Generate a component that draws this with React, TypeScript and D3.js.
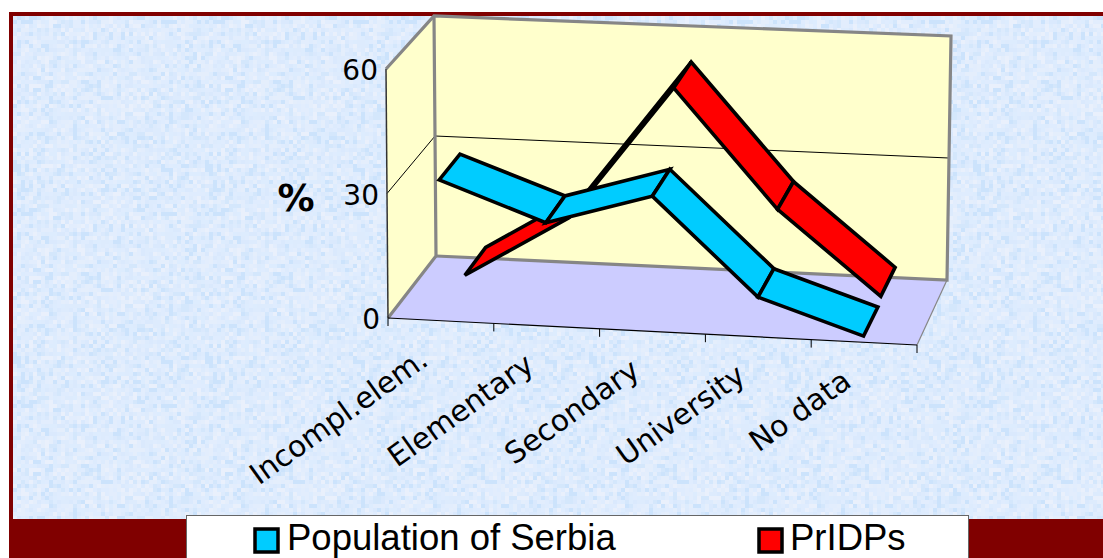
import * as d3 from "d3";

const categories = ["Incompl.elem.", "Elementary", "Secondary", "University", "No data"];
const serbiaValues = [34.2, 25.2, 32.9, 9.9, 1.8];
const pridpValues = [3.2, 18.5, 51.5, 23, 3];
const yTicks = [0, 30, 60];

const maroon = "#800000";
const wallFill = "#FFFFCC";
const floorFill = "#CCCCFF";
const blue = "#00CCFF";
const red = "#FF0000";
const paperTones = ["#CCE3FC", "#D4E7FC", "#DAE9FD", "#DDEBFD", "#DDECFE", "#DFECFE", "#E2EDFD", "#E4EEFC", "#E9F0FC"];

// the 3D box is faked: front and back planes get their own scales, depth goes 0..1 between them
const catFrontX = d3.scaleLinear().domain([0, 5]).range([388, 917]);
const catBackX = d3.scaleLinear().domain([0, 5]).range([436, 947]);
const baseFront = d3.scaleLinear().domain([0, 5]).range([318, 345]);
const baseBack = d3.scaleLinear().domain([0, 5]).range([256, 280]);
const riseFront = d3.scaleLinear().domain([0, 60]).range([0, 249]);
const riseBack = d3.scaleLinear().domain([0, 60]).range([0, 242]);
const lean = d3.scaleLinear().domain([0, 5]).range([-2, 4]);
const backTilt = d3.scaleLinear().domain([0, 5]).range([-2, 2]);

function project(cat: number, value: number, depth: number): [number, number] {
  const x = d3.interpolateNumber(catFrontX(cat), catBackX(cat))(depth);
  const base = d3.interpolateNumber(baseFront(cat), baseBack(cat))(depth);
  const rise = d3.interpolateNumber(riseFront(value), riseBack(value) + (backTilt(cat) * value) / 60)(depth);
  return [x + (lean(cat) * value) / 60, base - rise];
}

const poly = (pts: [number, number][]) => d3.line()(pts) + "Z";

// slide background texture only, a repeating tile of 4px squares
const cell = 4;
const tileCells = 48;
const pick = d3.randomInt.source(d3.randomLcg(0.37))(paperTones.length);
const tile = d3.range(tileCells * tileCells).map((i) => ({
  col: i % tileCells,
  row: Math.floor(i / tileCells),
  tone: paperTones[pick()],
}));

function Ribbon({ values, color, z0, z1 }: { values: number[]; color: string; z0: number; z1: number }) {
  return (
    <g>
      {values.slice(0, -1).map((v, i) => {
        const next = values[i + 1];
        return (
          <path
            key={i}
            d={poly([
              project(i + 0.5, v, z0),
              project(i + 1.5, next, z0),
              project(i + 1.5, next, z1),
              project(i + 0.5, v, z1),
            ])}
            fill={color}
            stroke="#000"
            strokeWidth={3.6}
            strokeLinejoin="miter"
          />
        );
      })}
    </g>
  );
}

function App() {
  const ticks5 = d3.range(0, categories.length + 1);
  return (
    <svg
      width={1103}
      height={558}
      style={{ position: "fixed", left: 0, top: 0, background: "#fff" }}
      fontFamily="'DejaVu Sans'"
    >
      <defs>
        <pattern id="paper" x={13} y={16} width={cell * tileCells} height={cell * tileCells} patternUnits="userSpaceOnUse">
          {tile.map((d, i) => (
            <rect key={i} x={d.col * cell} y={d.row * cell} width={cell} height={cell} fill={d.tone} shapeRendering="crispEdges" />
          ))}
        </pattern>
      </defs>

      {/* slide frame */}
      <rect x={9} y={12} width={1094} height={546} fill={maroon} />
      <rect x={13} y={16} width={1090} height={503} fill="url(#paper)" />

      {/* walls and floor */}
      <path d={poly([project(0, 0, 0), project(0, 60, 0), project(0, 60, 1), project(0, 0, 1)])} fill={wallFill} />
      <path d={poly([project(0, 0, 1), project(0, 60, 1), project(5, 60, 1), project(5, 0, 1)])} fill={wallFill} />
      <path d={poly([project(0, 0, 0), project(0, 0, 1), project(5, 0, 1), project(5, 0, 0)])} fill={floorFill} />

      {/* 30 gridline */}
      {yTicks
        .filter((t) => t > 0 && t < 60)
        .map((t) => (
          <path
            key={t}
            d={d3.line()([project(0, t, 0), project(0, t, 1), project(5, t, 1)]) as string}
            fill="none"
            stroke="#000"
            strokeWidth={1}
          />
        ))}

      {/* grey box edges */}
      <path
        d={d3.line()([project(0, 60, 0), project(0, 60, 1), project(5, 60, 1), project(5, 0, 1), project(0, 0, 1)]) as string}
        fill="none"
        stroke="#868686"
        strokeWidth={3.2}
      />
      <path d={d3.line()([project(0, 60, 1), project(0, 0, 1), project(0, 0, 0)]) as string} fill="none" stroke="#868686" strokeWidth={3.2} />
      <path d={d3.line()([project(5, 0, 1), project(5, 0, 0)]) as string} fill="none" stroke="#868686" strokeWidth={1.2} />
      <path d={d3.line()([project(0, 60, 0), project(0, 0, 0)]) as string} fill="none" stroke="#333" strokeWidth={1.5} />

      {/* category axis */}
      <path d={d3.line()([project(0, 0, 0), project(5, 0, 0)]) as string} fill="none" stroke="#000" strokeWidth={1.2} />
      {ticks5.map((i) => {
        const [x, y] = project(i, 0, 0);
        return <line key={i} x1={x} x2={x} y1={y} y2={y + 8} stroke="#000" strokeWidth={1} />;
      })}

      <Ribbon values={pridpValues} color={red} z0={0.52} z1={0.97} />
      <Ribbon values={serbiaValues} color={blue} z0={-0.02} z1={0.43} />

      {/* value labels */}
      {yTicks.map((t) => {
        const [x, y] = project(0, t, 0);
        return (
          <text key={t} x={x - 8} y={y + 11} textAnchor="end" fontSize={28} fill="#000">
            {t}
          </text>
        );
      })}
      <text x={296} y={211} textAnchor="middle" fontSize={37} fontWeight="bold" fill="#000">
        %
      </text>

      {/* category labels */}
      {categories.map((c, i) => {
        const [x, y] = project(i + 0.5, 0, 0);
        return (
          <text
            key={c}
            transform={`translate(${x - 11},${y + 43}) rotate(-35.5)`}
            textAnchor="end"
            fontSize={29.6}
            fill="#000"
          >
            {c}
          </text>
        );
      })}

      {/* legend */}
      <rect x={186.5} y={515.5} width={782} height={50} fill="#fff" stroke="#666" strokeWidth={1} />
      <rect x={255} y={529} width={23} height={23} fill={blue} stroke="#000" strokeWidth={3.5} />
      <text x={287} y={550} fontFamily="'Liberation Sans'" fontSize={36.5} fill="#000">
        Population of Serbia
      </text>
      <rect x={759} y={529} width={23} height={23} fill={red} stroke="#000" strokeWidth={3.5} />
      <text x={790} y={550} fontFamily="'Liberation Sans'" fontSize={36.5} fill="#000">
        PrIDPs
      </text>
    </svg>
  );
}

export default App;
